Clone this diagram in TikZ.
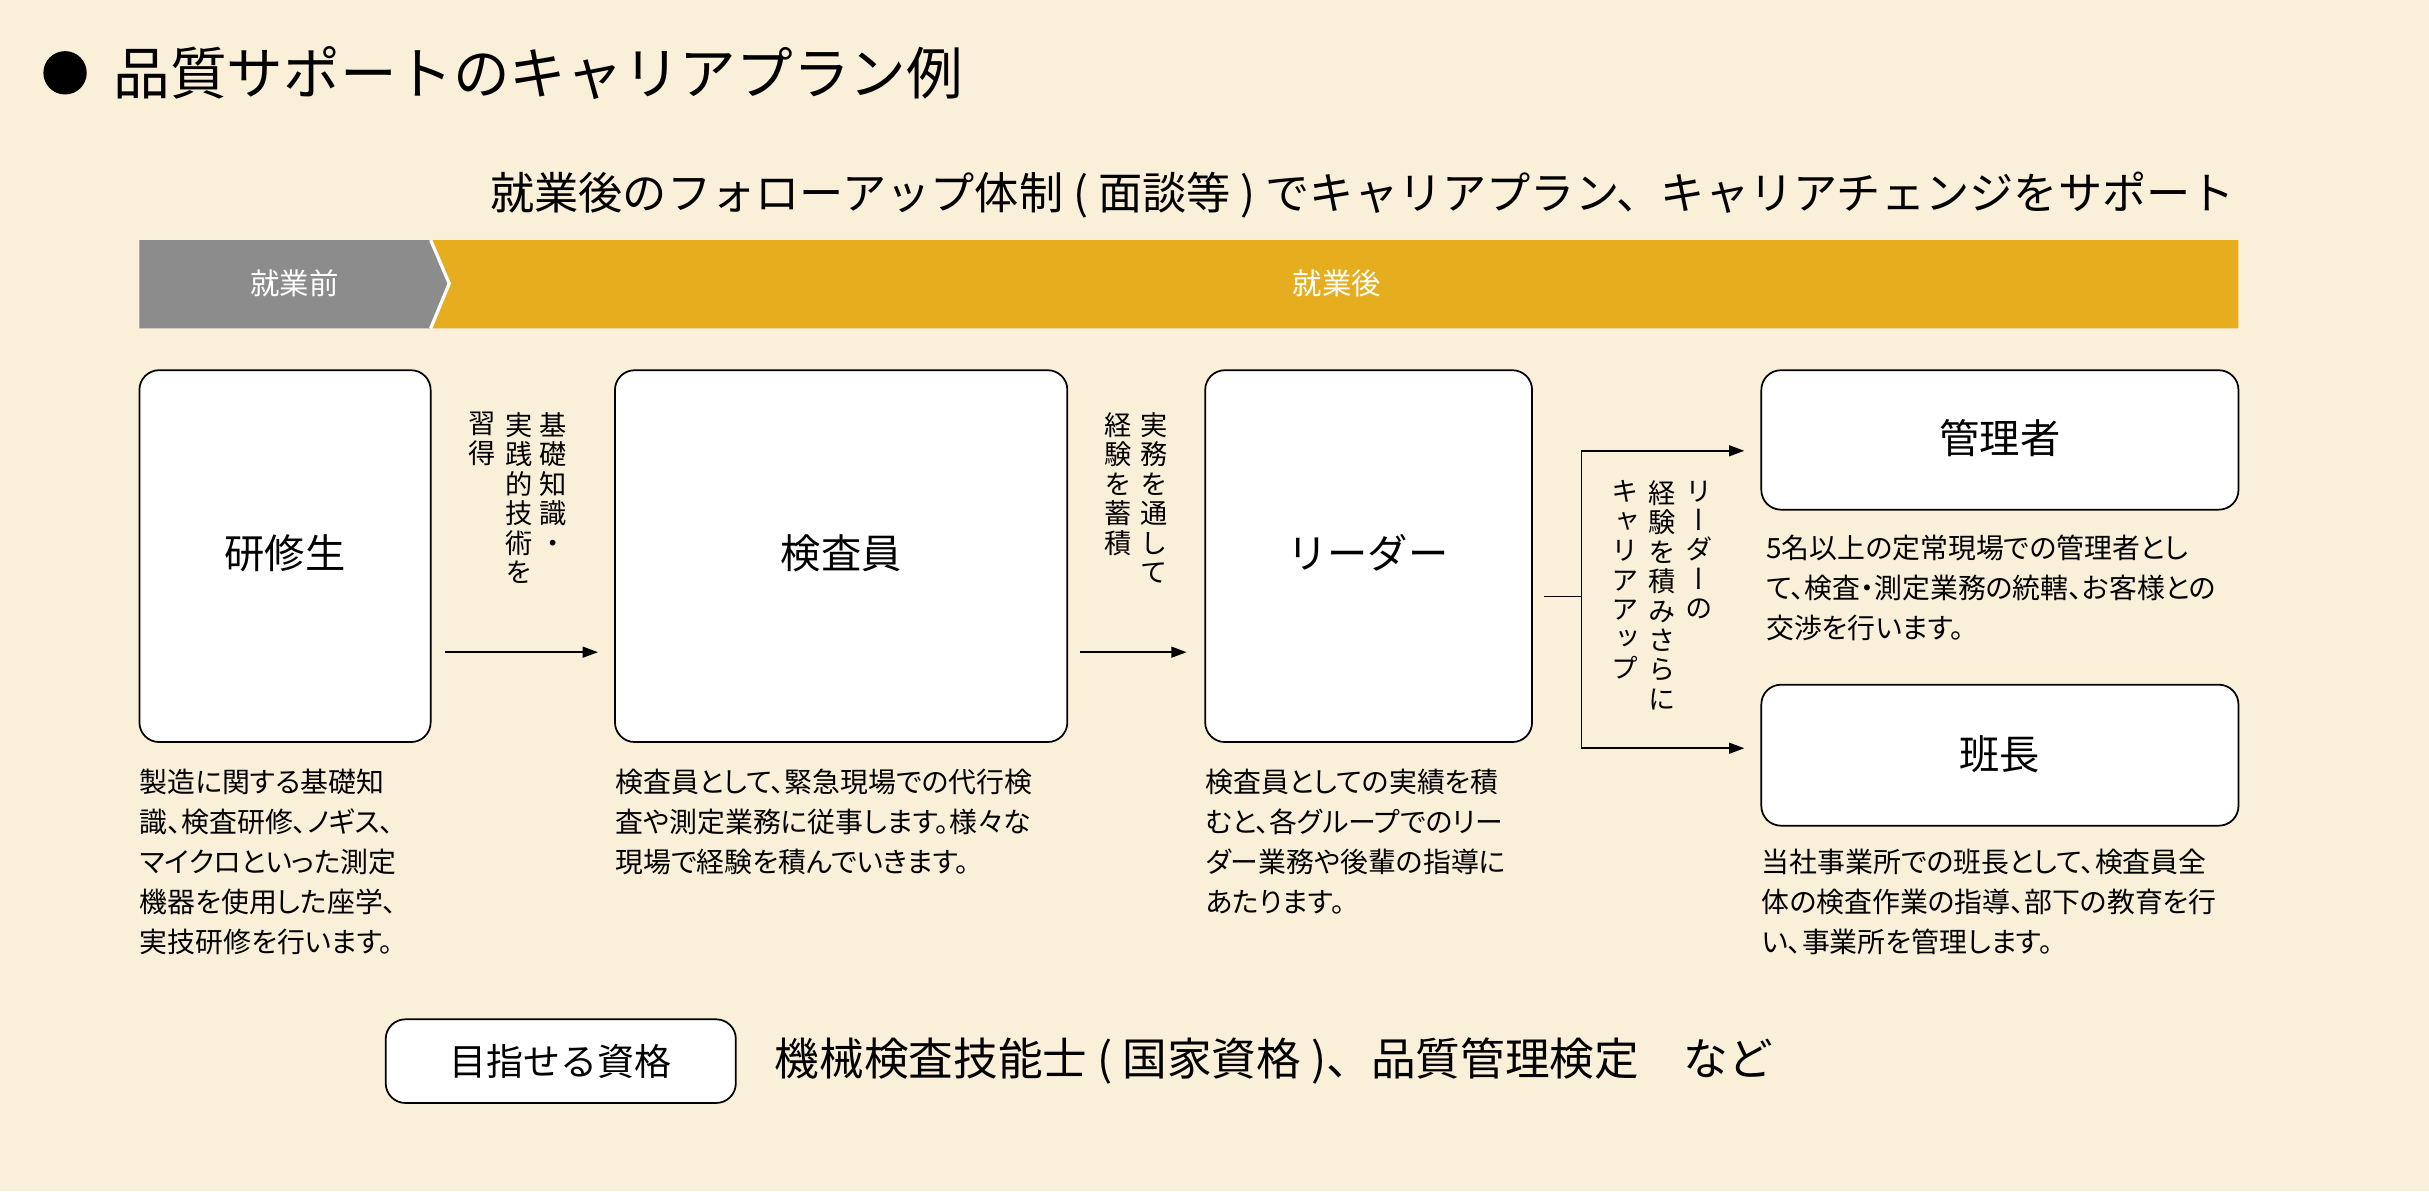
\documentclass[tikz,border=0pt]{standalone}
\usepackage{fontspec}
\setmainfont{Noto Sans CJK JP}
\newfontfamily\vjp[RawFeature=+vert]{Noto Sans CJK JP}
\newfontfamily\pjp[RawFeature=+palt]{Noto Sans CJK JP}
\usetikzlibrary{arrows.meta}
\definecolor{bgcream}{RGB}{250,240,218}
\definecolor{bargray}{RGB}{140,140,140}
\definecolor{baryellow}{RGB}{230,173,30}
\tikzset{
  rolebox/.style={draw=black,fill=white,rounded corners=9pt,line width=0.8pt},
  rolelabel/.style={font=\fontsize{18.5}{22}\selectfont},
  desc/.style={anchor=north west,align=left,inner sep=0pt,font=\pjp\fontsize{12.8}{18.4}\selectfont},
  vcol/.style={anchor=north,align=center,inner sep=0pt,font=\vjp\fontsize{12.5}{13.5}\selectfont},
  flow/.style={-{Triangle[length=7pt,width=5pt]},line width=0.7pt}
}
\begin{document}
\begin{tikzpicture}[x=0.025cm,y=-0.025cm]
\fill[bgcream] (0,0) rectangle (1568,769);
\useasboundingbox (0,0) rectangle (1568,769);
% title
\fill (42,47) circle (14);
\node[anchor=west,inner sep=0pt,font=\fontsize{26}{29}\selectfont] (title) at (73,47) {品質サポートのキャリアプラン例};
\node[anchor=east,inner sep=0pt,font=\fontsize{20.3}{24}\selectfont] (sub) at (1443,126) {就業後のフォローアップ体制 ( 面談等 ) でキャリアプラン、キャリアチェンジをサポート};
% phase bar
\fill[baryellow] (278,155) -- (1445,155) -- (1445,212) -- (278,212) -- (290,183) -- cycle;
\fill[bargray] (90,155) -- (278,155) -- (290,183) -- (278,212) -- (90,212) -- cycle;
\draw[white,line width=1.5pt] (278,155) -- (290,183) -- (278,212);
\node[white,font=\fontsize{13.5}{15}\selectfont] (before) at (190,183) {就業前};
\node[white,font=\fontsize{13.5}{15}\selectfont] (after) at (863,183) {就業後};
% boxes
\draw[rolebox] (90,239) rectangle (278,479);
\node[rolelabel] (trainee) at (184,357) {研修生};
\draw[rolebox] (397,239) rectangle (689,479);
\node[rolelabel] (inspector) at (543,357) {検査員};
\draw[rolebox] (778,239) rectangle (989,479);
\node[rolelabel] (leader) at (883,357) {リーダー};
\draw[rolebox] (1137,239) rectangle (1445,329);
\node[rolelabel] (manager) at (1291,283) {管理者};
\draw[rolebox] (1137,442) rectangle (1445,533);
\node[rolelabel] (chief) at (1291,487) {班長};
% connectors
\coordinate (a1) at (287,421); \coordinate (a1e) at (386,421);
\coordinate (a2) at (697,421); \coordinate (a2e) at (766,421);
\coordinate (s) at (997,385); \coordinate (j) at (1021,385);
\coordinate (jt) at (1021,291); \coordinate (jb) at (1021,483);
\coordinate (mt) at (1126,291); \coordinate (cb) at (1126,483);
\draw[flow] (a1) -- (a1e);
\draw[flow] (a2) -- (a2e);
\draw[line width=0.7pt] (s) -- (j);
\draw[flow] (j) -- (jt) -- (mt);
\draw[flow] (j) -- (jb) -- (cb);
% vertical notes
\node[vcol] (v1a) at (357,266) {基\\礎\\知\\識\\・};
\node[vcol] (v1b) at (335,266) {実\\践\\的\\技\\術\\を};
\node[vcol] (v1c) at (311,266) {習\\得};
\node[vcol] (v2a) at (745,266) {実\\務\\を\\通\\し\\て};
\node[vcol] (v2b) at (722,266) {経\\験\\を\\蓄\\積};
\node[vcol] (v3a) at (1097,310) {リ\\ー\\ダ\\ー\\の};
\node[vcol] (v3b) at (1073,310) {経\\験\\を\\積\\み\\さ\\ら\\に};
\node[vcol] (v3c) at (1049,310) {キ\\ャ\\リ\\ア\\ア\\ッ\\プ};
% descriptions
\node[desc] (d1) at (90,496) {製造に関する基礎知\\識、検査研修、ノギス、\\マイクロといった測定\\機器を使用した座学、\\実技研修を行います。};
\node[desc] (d2) at (397,496) {検査員として、緊急現場での代行検\\査や測定業務に従事します。様々な\\現場で経験を積んでいきます。};
\node[desc] (d3) at (778,496) {検査員としての実績を積\\むと、各グループでのリー\\ダー業務や後輩の指導に\\あたります。};
\node[desc] (d4) at (1140,345) {5名以上の定常現場での管理者とし\\て、検査・測定業務の統轄、お客様との\\交渉を行います。};
\node[desc] (d5) at (1137,548) {当社事業所での班長として、検査員全\\体の検査作業の指導、部下の教育を行\\い、事業所を管理します。};
% qualifications
\draw[rolebox] (249,658) rectangle (475,712);
\node[font=\fontsize{17}{20}\selectfont] (qual) at (362,685) {目指せる資格};
\node[anchor=west,inner sep=0pt,font=\fontsize{20.5}{24}\selectfont] (quallist) at (500,685) {機械検査技能士 ( 国家資格 )、品質管理検定　など};
\end{tikzpicture}
\end{document}
